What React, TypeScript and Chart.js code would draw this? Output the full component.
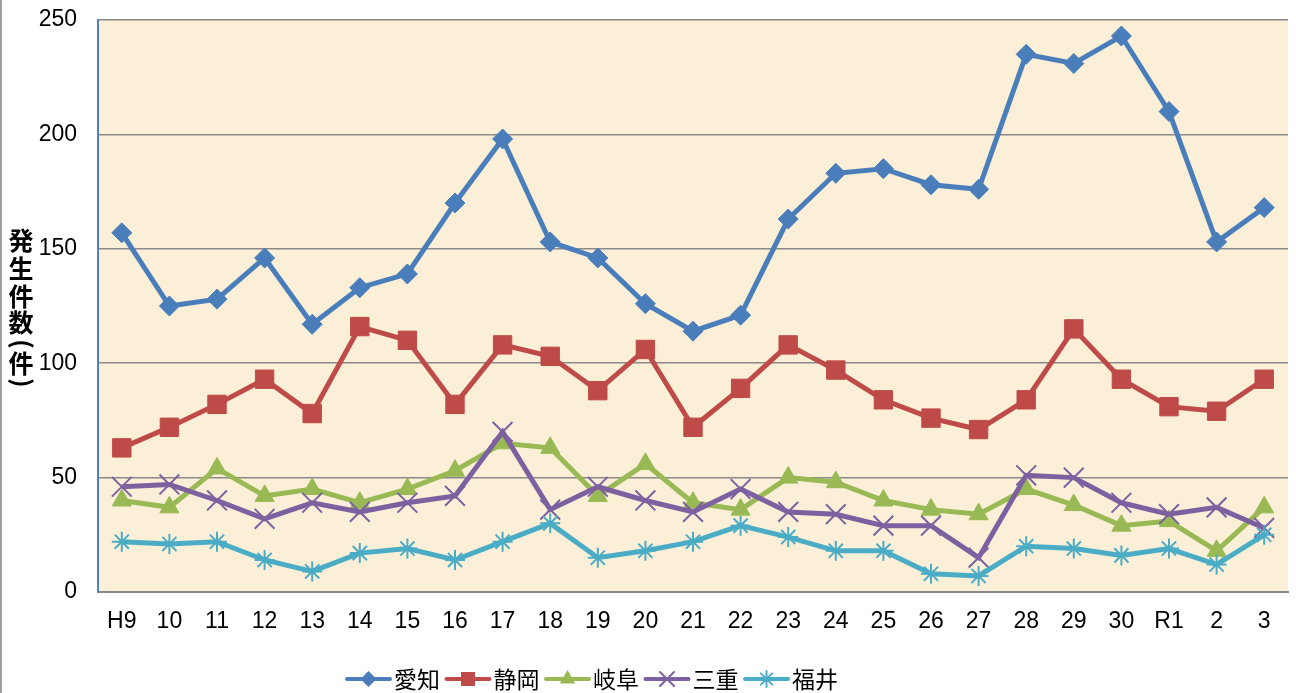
import React, { useEffect, useRef } from 'react';
import { Chart, registerables } from 'chart.js';

Chart.register(...registerables);

const categories = ['H9', '10', '11', '12', '13', '14', '15', '16', '17', '18', '19', '20', '21', '22', '23', '24', '25', '26', '27', '28', '29', '30', 'R1', '2', '3'];
const aichi = [157, 125, 128, 146, 117, 133, 139, 170, 198, 153, 146, 126, 114, 121, 163, 183, 185, 178, 176, 235, 231, 243, 210, 153, 168];
const shizuoka = [63, 72, 82, 93, 78, 116, 110, 82, 108, 103, 88, 106, 72, 89, 108, 97, 84, 76, 71, 84, 115, 93, 81, 79, 93];
const gifu = [40, 37, 54, 42, 45, 39, 45, 53, 65, 63, 42, 56, 39, 36, 50, 48, 40, 36, 34, 45, 38, 29, 31, 18, 37];
const mie = [46, 47, 40, 32, 39, 35, 39, 42, 70, 36, 46, 40, 35, 45, 35, 34, 29, 29, 15, 51, 50, 39, 34, 37, 28];
const fukui = [22, 21, 22, 14, 9, 17, 19, 14, 22, 30, 15, 18, 22, 29, 24, 18, 18, 8, 7, 20, 19, 16, 19, 12, 25];
const seriesNames = ['愛知', '静岡', '岐阜', '三重', '福井'];
const yTicks = [0, 50, 100, 150, 200, 250];
const yTitleChars = ['発', '生', '件', '数', '(', '件', ')'];

const seriesData = [aichi, shizuoka, gifu, mie, fukui];
const seriesColors = ['#4A7EBB', '#BE4B48', '#98B954', '#7D60A0', '#4BACC6'];
const pointStyles = ['rectRot', 'rect', 'triangle', 'crossRot', 'star'];
const pointRadii = [10, 13, 11, 14, 10];
const pointBorderWidths = [1, 1, 1, 2, 2];

const tickFont = { family: '"Liberation Sans", Arial, sans-serif', size: 23 };
const jpFont = '"Noto Sans CJK JP", "Noto Sans", sans-serif';

function drawLegendMarker(ctx: CanvasRenderingContext2D, style: string, x: number, y: number, color: string) {
  ctx.save();
  ctx.fillStyle = color;
  ctx.strokeStyle = color;
  ctx.lineWidth = 2;
  ctx.beginPath();
  if (style === 'rectRot') {
    const r = 8;
    ctx.moveTo(x - r, y); ctx.lineTo(x, y - r); ctx.lineTo(x + r, y); ctx.lineTo(x, y + r); ctx.closePath();
    ctx.fill();
  } else if (style === 'rect') {
    const s = 7;
    ctx.rect(x - s, y - s, 2 * s, 2 * s);
    ctx.fill();
  } else if (style === 'triangle') {
    const r = 9;
    ctx.moveTo(x, y - r);
    ctx.lineTo(x + r * Math.sin(2 * Math.PI / 3), y - r * Math.cos(2 * Math.PI / 3));
    ctx.lineTo(x + r * Math.sin(4 * Math.PI / 3), y - r * Math.cos(4 * Math.PI / 3));
    ctx.closePath();
    ctx.fill();
  } else if (style === 'crossRot') {
    const a = 7;
    ctx.moveTo(x - a, y - a); ctx.lineTo(x + a, y + a);
    ctx.moveTo(x + a, y - a); ctx.lineTo(x - a, y + a);
    ctx.stroke();
  } else if (style === 'star') {
    const r = 8; const a = r * Math.SQRT1_2;
    ctx.moveTo(x, y - r); ctx.lineTo(x, y + r);
    ctx.moveTo(x - r, y); ctx.lineTo(x + r, y);
    ctx.moveTo(x - a, y - a); ctx.lineTo(x + a, y + a);
    ctx.moveTo(x + a, y - a); ctx.lineTo(x - a, y + a);
    ctx.stroke();
  }
  ctx.restore();
}

export default function App() {
  const ref = useRef<HTMLCanvasElement>(null);

  useEffect(() => {
    document.body.style.margin = '0';
    const canvas = ref.current;
    if (!canvas) return;

    const bgPlugin = {
      id: 'bgPlugin',
      beforeDraw(chart: any) {
        const { ctx, chartArea: a } = chart;
        ctx.save();
        ctx.fillStyle = '#FFFFFF';
        ctx.fillRect(0, 0, chart.width, chart.height);
        ctx.fillStyle = '#FCEFD7';
        ctx.fillRect(a.left, a.top, a.right - a.left, a.bottom - a.top);
        ctx.fillStyle = '#A0A0A0';
        ctx.fillRect(0, 0, 2, chart.height);
        ctx.restore();
      },
    };

    const titlePlugin = {
      id: 'titlePlugin',
      afterDraw(chart: any) {
        const { ctx, chartArea: a } = chart;
        const mid = (a.top + a.bottom) / 2;
        const offsets = [-66, -38, -10, 16, 38, 57, 77];
        ctx.save();
        ctx.fillStyle = '#000';
        ctx.font = `bold 25px ${jpFont}`;
        ctx.textAlign = 'center';
        ctx.textBaseline = 'middle';
        yTitleChars.forEach((ch, i) => {
          const y = mid + offsets[i];
          if (ch === '(' || ch === ')') {
            ctx.save();
            ctx.translate(22, y);
            ctx.rotate(Math.PI / 2);
            ctx.fillText(ch, 0, 0);
            ctx.restore();
          } else {
            ctx.fillText(ch, 21, y);
          }
        });
        ctx.restore();
      },
    };

    const legendPlugin = {
      id: 'customLegend',
      afterDraw(chart: any) {
        const { ctx } = chart;
        const y = 679;
        let x = 345;
        ctx.save();
        ctx.font = `23px ${jpFont}`;
        ctx.textBaseline = 'middle';
        ctx.textAlign = 'left';
        seriesNames.forEach((name, i) => {
          ctx.strokeStyle = seriesColors[i];
          ctx.lineWidth = 4;
          ctx.lineCap = 'round';
          ctx.beginPath();
          ctx.moveTo(x + 2, y);
          ctx.lineTo(x + 45, y);
          ctx.stroke();
          drawLegendMarker(ctx, pointStyles[i], x + 23.5, y, seriesColors[i]);
          ctx.fillStyle = '#000';
          ctx.fillText(name, x + 49, y);
          x += 99.5;
        });
        ctx.restore();
      },
    };

    const chart = new Chart(canvas, {
      type: 'line',
      data: {
        labels: categories,
        datasets: seriesData.map((d, i) => ({
          label: seriesNames[i],
          data: d,
          borderColor: seriesColors[i],
          backgroundColor: seriesColors[i],
          borderWidth: 5,
          pointStyle: pointStyles[i] as any,
          pointRadius: pointRadii[i],
          pointBackgroundColor: seriesColors[i],
          pointBorderColor: seriesColors[i],
          pointBorderWidth: pointBorderWidths[i],
          tension: 0,
          fill: false,
          order: seriesData.length - 1 - i,
        })),
      },
      options: {
        responsive: false,
        animation: false,
        layout: { padding: { left: 0, top: 20, right: 6, bottom: 0 } },
        plugins: {
          legend: { display: false },
          tooltip: { enabled: false },
          title: { display: false },
        },
        scales: {
          x: {
            type: 'category',
            offset: true,
            grid: { display: true, color: 'rgba(0,0,0,0)', drawTicks: false },
            border: { display: true, color: '#888888', width: 2 },
            ticks: { color: '#000', font: tickFont, padding: 16, maxRotation: 0, autoSkip: false },
            afterFit(scale: any) {
              scale.height = 101;
              scale.paddingLeft = 0;
              scale.paddingRight = 0;
            },
          },
          y: {
            min: 0,
            max: 250,
            afterBuildTicks(scale: any) { scale.ticks = yTicks.map((v) => ({ value: v })); },
            ticks: { color: '#000', font: tickFont, padding: 21 },
            grid: { color: '#8A8A8A', lineWidth: 1.5, drawTicks: false },
            border: { display: true, color: '#4F81BD', width: 2 },
            afterFit(scale: any) {
              scale.width = 98;
              scale.paddingTop = 0;
              scale.paddingBottom = 0;
            },
          },
        },
      },
      plugins: [bgPlugin, titlePlugin, legendPlugin],
    });

    return () => chart.destroy();
  }, []);

  return (
    <div style={{ width: 1296, height: 693, position: 'relative', overflow: 'hidden' }}>
      <canvas ref={ref} width={1304} height={693} style={{ width: 1304, height: 693, display: 'block' }} />
    </div>
  );
}
